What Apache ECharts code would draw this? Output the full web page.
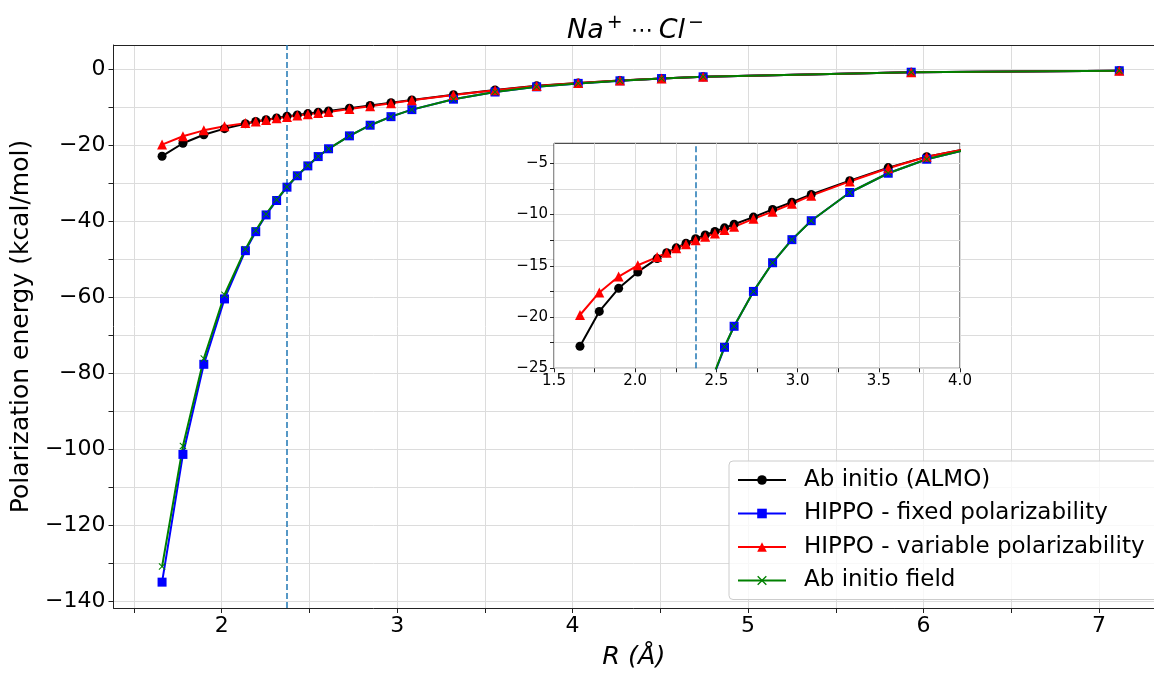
<!DOCTYPE html>
<html>
<head>
<meta charset="utf-8">
<script src="https://cdn.jsdelivr.net/npm/echarts@6/dist/echarts.min.js"></script>
<style>
  html, body { margin: 0; padding: 0; background: #fff; }
  #chart { width: 1154px; height: 675px; }
</style>
</head>
<body>
<div id="chart"></div>
<script>
// separations R (Å) and polarization energies (kcal/mol)
let R = [1.660, 1.779, 1.898, 2.016, 2.135, 2.194, 2.253, 2.313, 2.372, 2.431, 2.491, 2.550, 2.609,
  2.728, 2.846, 2.965, 3.084, 3.321, 3.558, 3.795, 4.032, 4.270, 4.507, 4.744, 5.930, 7.116];
let almo = [-22.85, -19.45, -17.2, -15.6, -14.3, -13.72, -13.25, -12.8, -12.35, -12.0, -11.65, -11.3, -10.95,
  -10.25, -9.5, -8.8, -8.05, -6.7, -5.42, -4.35, -3.62, -2.97, -2.4, -1.95, -0.74, -0.36];
let hippoFixed = [-134.9, -101.3, -77.6, -60.4, -47.7, -42.7, -38.3, -34.5, -31.0, -28.0, -25.4, -22.95, -20.9,
  -17.5, -14.7, -12.45, -10.6, -7.85, -5.97, -4.6, -3.7, -3.02, -2.43, -1.97, -0.76, -0.37];
let hippoVar = [-19.8, -17.6, -16.05, -14.95, -14.15, -13.72, -13.3, -12.9, -12.52, -12.16, -11.84, -11.52, -11.2,
  -10.42, -9.72, -8.95, -8.16, -6.77, -5.48, -4.37, -3.62, -2.97, -2.4, -1.95, -0.74, -0.36];
let abField = [-130.8, -99.1, -76.1, -59.3, -47.3, -42.4, -38.1, -34.3, -30.9, -27.9, -25.3, -22.9, -20.9,
  -17.5, -14.7, -12.45, -10.6, -7.85, -5.97, -4.6, -3.7, -3.02, -2.43, -1.97, -0.76, -0.37];
let bondLength = 2.372; // equilibrium distance (dashed line)

// ticks / labels
let mainXTicks = [1.5, 2, 2.5, 3, 3.5, 4, 4.5, 5, 5.5, 6, 6.5, 7];
let mainXLabels = [2, 3, 4, 5, 6, 7];
let mainYTicks = [-140, -130, -120, -110, -100, -90, -80, -70, -60, -50, -40, -30, -20, -10, 0];
let mainYLabels = [-140, -120, -100, -80, -60, -40, -20, 0];
let insetXTicks = [1.5, 1.75, 2, 2.25, 2.5, 2.75, 3, 3.25, 3.5, 3.75, 4];
let insetXLabels = [1.5, 2, 2.5, 3, 3.5, 4];
let insetYTicks = [-25, -22.5, -20, -17.5, -15, -12.5, -10, -7.5, -5];
let insetYLabels = [-25, -20, -15, -10, -5];

let FONT = 'DejaVu Sans';
let GRID_COLOR = '#dcdcdc';
let FRAME = '#222';

let chart = echarts.init(document.querySelector('#chart'));

let minus = v => (v < 0 ? '\u2212' : '') + Math.abs(v);
let pair = (xs, ys) => xs.map((x, i) => [x, ys[i]]);

let xMark = 'path://M0,1L1,0L5,4L9,0L10,1L6,5L10,9L9,10L5,6L1,10L0,9L4,5Z';

let seriesDefs = [
  { name: 'Ab initio (ALMO)', values: almo, color: '#000000', symbol: 'circle', size: 9 },
  { name: 'HIPPO - fixed polarizability', values: hippoFixed, color: '#0000ff', symbol: 'rect', size: 9 },
  { name: 'HIPPO - variable polarizability', values: hippoVar, color: '#ff0000', symbol: 'triangle', size: 10 },
  { name: 'Ab initio field', values: abField, color: '#008000', symbol: xMark, size: 7 },
];

let bondLine = {
  symbol: 'none',
  silent: true,
  label: { show: false },
  lineStyle: { type: [6, 3], color: '#1f77b4', width: 1.5 },
  data: [{ xAxis: bondLength }]
};

let makeSeries = (def, idx, inset) => {
  let s = {
    name: def.name,
    type: 'line',
    xAxisIndex: idx,
    yAxisIndex: idx,
    data: pair(R, def.values),
    symbol: def.symbol,
    symbolSize: def.size,
    showSymbol: true,
    clip: inset,
    z: inset ? 7 : 2,
    lineStyle: { color: def.color, width: 2 },
    itemStyle: { color: def.color, opacity: 1 },
    animation: false
  };
  if (def.name === 'Ab initio (ALMO)') s.markLine = Object.assign({ z: inset ? 7 : 2 }, bondLine);
  return s;
};

let axisCommon = (fontSize) => ({
  axisLine: { show: true, onZero: false, lineStyle: { color: FRAME, width: 1 } },
  axisTick: { show: true, inside: false, length: 5, lineStyle: { color: FRAME } },
  splitLine: { show: true, lineStyle: { color: GRID_COLOR, width: 1 } },
  axisLabel: { color: '#000', fontFamily: FONT, fontSize: fontSize }
});

let merge = (a, b) => {
  let out = Object.assign({}, a, b);
  ['axisLine', 'axisTick', 'axisLabel', 'splitLine'].forEach(k => {
    if (a[k] && b[k]) out[k] = Object.assign({}, a[k], b[k]);
  });
  return out;
};

let titleTok = { fontFamily: FONT, fontWeight: 'normal', color: '#000' };

chart.setOption({
  backgroundColor: '#fff',
  animation: false,
  title: {
    text: '{i|Na}{s|+}{d|\u22EF}{i|Cl}{s|\u2212}',
    left: 562,
    top: 9,
    textStyle: {
      fontWeight: 'normal',
      rich: {
        i: Object.assign({ fontStyle: 'italic', fontSize: 27, lineHeight: 34 }, titleTok),
        s: Object.assign({ fontSize: 19, verticalAlign: 'top', lineHeight: 19, padding: [0, 6, 0, 3] }, titleTok),
        d: Object.assign({ fontSize: 22, lineHeight: 34, padding: [0, 6, 0, 2] }, titleTok)
      }
    }
  },
  legend: {
    orient: 'vertical',
    left: 729,
    top: 461,
    padding: [6, 14, 6, 8],
    itemGap: 7.5,
    itemWidth: 48,
    itemHeight: 12,
    backgroundColor: 'rgba(255,255,255,0.8)',
    borderColor: '#cccccc',
    borderWidth: 1,
    borderRadius: 4,
    z: 20,
    data: seriesDefs.map(d => d.name),
    textStyle: { fontFamily: FONT, fontSize: 23, color: '#000', lineHeight: 26, padding: [0, 0, 0, 13] }
  },
  grid: [
    // main axes run off the right edge of the picture
    { left: 113.5, top: 45, width: 1040.5, height: 568.5, show: false },
    { left: 554, top: 143.3, width: 406, height: 225, show: true, backgroundColor: '#fff',
      borderColor: FRAME, borderWidth: 1, z: 5 }
  ],
  xAxis: [
    merge(axisCommon(22), {
      type: 'value', gridIndex: 0, min: 1.3832, max: 7.314,
      name: 'R (\u00C5)', nameLocation: 'middle', nameGap: 36,
      nameTextStyle: { fontFamily: FONT, fontStyle: 'italic', fontSize: 25.5, color: '#000' },
      axisTick: { customValues: mainXTicks },
      axisLabel: { customValues: mainXLabels, margin: 7, formatter: v => String(v) }
    }),
    merge(axisCommon(15), {
      type: 'value', gridIndex: 1, min: 1.5, max: 4.0, z: 6,
      axisLine: { show: false },
      axisTick: { customValues: insetXTicks, length: 4 },
      axisLabel: { customValues: insetXLabels, margin: 5, formatter: v => v.toFixed(1) }
    }),
    // top spine of the main axes
    {
      type: 'value', gridIndex: 0, position: 'top', min: 1.3832, max: 7.314,
      axisLine: { show: true, onZero: false, lineStyle: { color: FRAME, width: 1 } },
      axisTick: { show: false }, axisLabel: { show: false }, splitLine: { show: false }
    }
  ],
  yAxis: [
    merge(axisCommon(22), {
      type: 'value', gridIndex: 0, min: -141.7, max: 6.4,
      name: 'Polarization energy (kcal/mol)', nameLocation: 'middle', nameGap: 76,
      nameTextStyle: { fontFamily: FONT, fontSize: 25, color: '#000' },
      axisTick: { customValues: mainYTicks },
      axisLabel: { customValues: mainYLabels, margin: 8, formatter: minus }
    }),
    merge(axisCommon(15), {
      type: 'value', gridIndex: 1, min: -25, max: -3.05, z: 6,
      axisLine: { show: false },
      axisTick: { customValues: insetYTicks, length: 4 },
      axisLabel: { customValues: insetYLabels, margin: 6, formatter: minus }
    })
  ],
  series: seriesDefs.map(d => makeSeries(d, 0, false))
    .concat(seriesDefs.map(d => makeSeries(d, 1, true)))
});
</script>
</body>
</html>
